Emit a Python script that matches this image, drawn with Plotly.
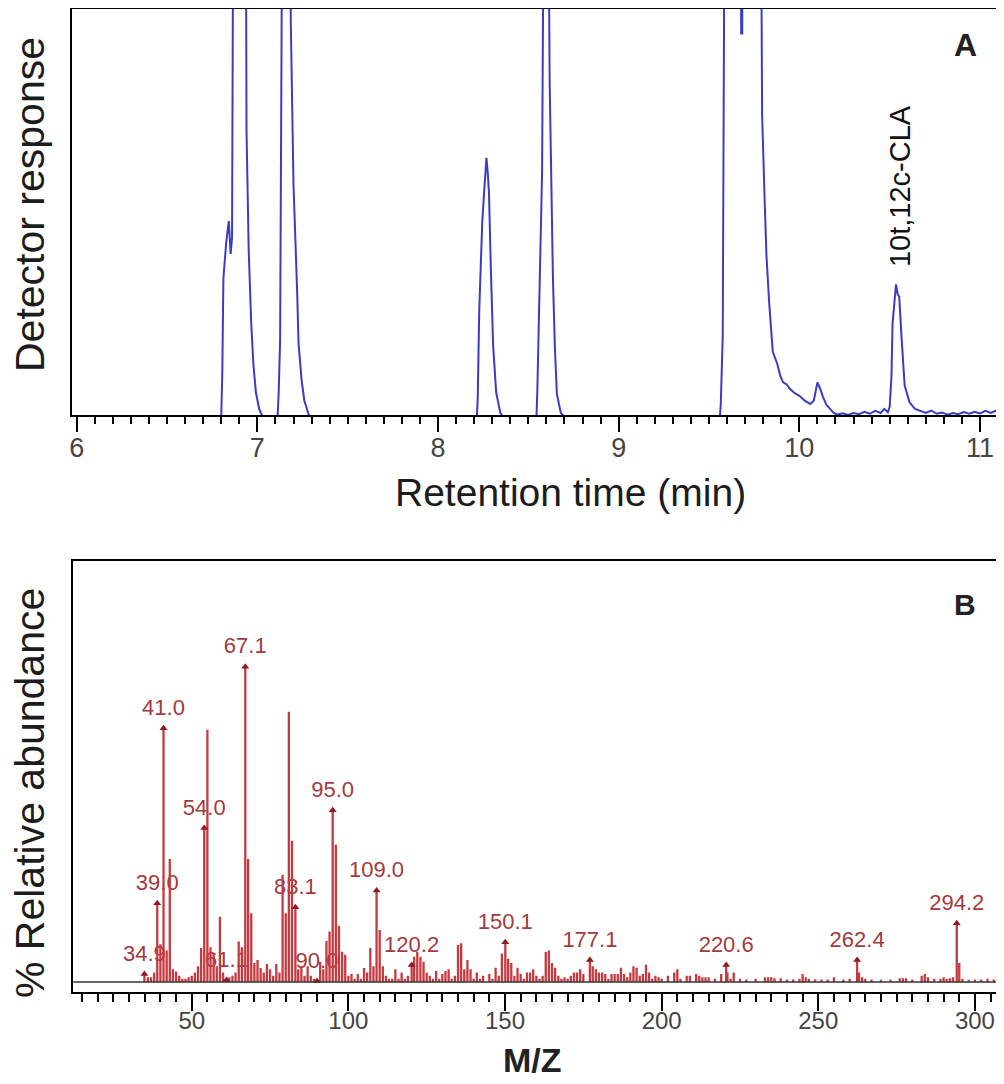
import plotly.graph_objects as go

# ---------------- Panel A: chromatogram ----------------
time_min = [5.98, 6.80, 6.806, 6.812, 6.828, 6.842, 6.852, 6.86, 6.868, 6.935, 6.94, 6.952, 6.966,
            6.978, 6.992, 7.01, 7.03, 7.112, 7.118, 7.126, 7.14, 7.18, 7.185, 7.20, 7.22, 7.228,
            7.245, 7.26, 7.285, 7.30, 8.215, 8.22, 8.228, 8.245, 8.258, 8.268, 8.275, 8.282,
            8.292, 8.305, 8.322, 8.345, 8.36, 8.545, 8.55, 8.565, 8.576, 8.588, 8.608, 8.618,
            8.628, 8.636, 8.647, 8.658, 8.68, 8.70, 9.56, 9.565, 9.576, 9.588, 9.676, 9.678,
            9.684, 9.686, 9.785, 9.794, 9.808, 9.818, 9.833, 9.853, 9.878, 9.895, 9.91, 9.93,
            9.946, 9.97, 10.0, 10.03, 10.06, 10.08, 10.10, 10.115, 10.13, 10.15, 10.17, 10.19,
            10.21, 10.24, 10.27, 10.30, 10.33, 10.36, 10.39, 10.42, 10.45, 10.47, 10.49, 10.50,
            10.51, 10.516, 10.526, 10.535, 10.545, 10.553, 10.565, 10.583, 10.61, 10.64, 10.67,
            10.70, 10.73, 10.76, 10.79, 10.82, 10.85, 10.88, 10.91, 10.94, 10.97, 11.0, 11.03,
            11.06, 11.10]
response = [0, 0, 11, 34, 43, 48, 40, 44, 150, 150, 70, 41, 23,
            13, 6, 2, 0, 0, 6, 19, 150, 150, 97, 57, 31, 18,
            9, 4, 0.5, 0, 0, 5, 26, 48, 57, 63.5, 60, 55,
            37, 17.5, 6, 1, 0, 0, 7, 35, 60, 150, 150, 82,
            48, 34, 17, 5.6, 1, 0, 0, 3, 20, 150, 150, 94,
            94, 150, 150, 74, 53, 39.5, 28, 16, 13, 10, 8.5, 8,
            7, 6, 5.2, 4, 3.2, 4, 8.5, 7, 5, 3, 2, 1,
            0.6, 0.9, 0.5, 1.0, 0.7, 1.3, 0.8, 1.5, 1.0, 2.0, 1.2, 2.5,
            10, 23, 28, 32.5, 30, 29.5, 20, 7.7, 3.6, 2, 1.5,
            1.0, 1.6, 0.8, 1.1, 0.6, 1.0, 0.7, 1.2, 0.8, 1.3, 0.9, 1.5,
            1.0, 1.8]
a_ticks = [6, 7, 8, 9, 10, 11]

# ---------------- Panel B: mass spectrum ----------------
mz = [34.9, 36, 37, 38, 39, 40, 41, 42, 43, 44, 45, 46, 47, 48, 49, 50, 51, 52, 53, 54, 55, 56, 57,
      58, 59, 60, 61.1, 62, 63, 64, 65, 66, 67.1, 68, 69, 70, 71, 72, 73, 74, 75, 76, 77, 78, 79,
      80, 81, 82, 83.1, 84, 85, 86, 87, 88, 89, 90.0, 91, 92, 93, 94, 95.0, 96, 97, 98, 99, 100,
      101, 102, 103, 104, 105, 106, 107, 108, 109.0, 110, 111, 112, 113, 114, 115, 116, 117, 118,
      119, 120.2, 121, 122, 123, 124, 125, 126, 127, 128, 129, 130, 131, 132, 133, 134, 135, 136,
      137, 138, 139, 140, 141, 142, 143, 145, 146, 147, 148, 149, 150.1, 151, 152, 153, 154, 155,
      156, 157, 158, 159, 160, 161, 162, 163, 164, 165, 166, 167, 168, 169, 170, 171, 172, 173,
      174, 175, 177.1, 178, 179, 180, 181, 182, 183, 184, 185, 186, 187, 188, 189, 190, 191, 192,
      193, 194, 195, 196, 197, 198, 199, 200, 202, 204, 205, 206, 208, 209, 211, 212, 213, 214,
      215, 217, 219, 220.6, 221, 222, 223, 225, 227, 230, 233, 234, 235, 236, 238, 240, 242, 244,
      245, 246, 247, 249, 251, 253, 255, 258, 260, 262.4, 263, 264, 265, 267, 270, 273, 276, 277,
      278, 280, 283, 284, 285, 287, 289, 290, 291, 292, 293, 294.2, 295, 296, 298, 300, 302, 304,
      306]
abundance = [2.5, 1.5, 1.5, 3, 25, 12, 80.5, 10, 39, 4, 3.3, 2, 1, 1, 1.5, 2, 3, 5, 10.8, 48.8, 80, 11, 9,
             5, 20.7, 3, 0.6, 1.5, 2, 3, 12.8, 11, 100, 39, 21.8, 6, 7, 4.4, 3, 5.7, 4, 2, 5.7, 3, 34,
             21.8, 85.7, 44.8, 23.7, 4, 5, 2, 5, 2, 1, 0.3, 6.4, 4, 13, 16, 54.5, 43.5, 17.8, 9.6, 8.6, 2,
             2.5, 1, 2.5, 1, 4.4, 3, 10.8, 5, 29, 16.5, 5, 2, 1, 1, 4, 1, 3, 1,
             2, 5.4, 8, 9.6, 8, 6.4, 3, 2, 1, 3.5, 1, 2.5, 3.5, 4, 1, 2, 11.7, 12.3,
             4, 7, 4, 1, 3, 1, 2, 2.5, 1, 4.5, 2, 9, 12.6, 7.4, 6, 2, 4.5, 2.5,
             1, 3, 3, 4, 2, 1, 2, 9.5, 10, 6, 4.5, 2, 1, 1.5, 1, 2, 3, 3,
             4, 2.5, 7, 5, 4, 3, 3, 2.5, 1, 2.5, 2.5, 2.5, 4.5, 2.5, 1.5, 3, 5, 4.5,
             2, 2.5, 5.5, 3, 1, 2, 1.5, 1, 2, 3, 4, 1, 2, 2, 2.5, 2, 1.5, 1.5,
             1.5, 1, 2.5, 5.4, 3, 1, 3, 1, 0.8, 1, 1.5, 1.5, 1.5, 1.2, 1.2, 0.8, 0.8, 1,
             2.5, 1.5, 1, 0.8, 0.8, 0.8, 1.5, 0.8, 1, 7, 3, 1.5, 1, 0.8, 0.7, 0.8, 1.2, 1.2,
             1.2, 0.8, 2, 2.5, 1.5, 1, 1, 1.5, 1, 1.2, 1.5, 18.6, 6, 1, 0.7, 0.8, 0.8, 1,
             0.8]
label_mz = [34.9, 39.0, 41.0, 54.0, 61.1, 67.1, 83.1, 90.0, 95.0, 109.0, 120.2, 150.1, 177.1,
            220.6, 262.4, 294.2]
label_abund = [2.5, 25, 80.5, 48.8, 0.6, 100, 23.7, 0.3, 54.5, 29, 5.4, 12.6, 7, 5.4, 7, 18.6]
label_text = ["34.9", "39.0", "41.0", "54.0", "61.1", "67.1", "83.1", "90.0", "95.0", "109.0",
              "120.2", "150.1", "177.1", "220.6", "262.4", "294.2"]
b_ticks = [50, 100, 150, 200, 250, 300]

FONT = "Liberation Sans, Arial, Helvetica, sans-serif"
OFF = 8                      # page body margin
W, H = 1004 - OFF, 1084 - OFF

fig = go.Figure()

fig.add_trace(go.Scatter(x=time_min, y=response, mode="lines",
                         line=dict(color="#3a3dbf", width=2), xaxis="x", yaxis="y",
                         showlegend=False, hoverinfo="skip"))

# labels first so that bars overlay them, as in the original
fig.add_trace(go.Scatter(x=label_mz, y=label_abund, mode="markers+text", text=label_text,
                         textposition="top center",
                         textfont=dict(family=FONT, size=22, color="#a23a3e"),
                         marker=dict(size=11, opacity=0), xaxis="x2", yaxis="y2",
                         showlegend=False, hoverinfo="skip", cliponaxis=False))

bx, by = [], []
for m, v in zip(mz, abundance):
    bx += [m, m, None]
    by += [0, v, None]
fig.add_trace(go.Scatter(x=bx, y=by, mode="lines", line=dict(color="#c43a40", width=2.3),
                         xaxis="x2", yaxis="y2", showlegend=False, hoverinfo="skip"))

fig.add_trace(go.Scatter(x=label_mz, y=label_abund, mode="markers",
                         marker=dict(symbol="triangle-up", size=7, color="#8e1b22"),
                         xaxis="x2", yaxis="y2", showlegend=False, hoverinfo="skip",
                         cliponaxis=False))


def px_x(p):
    return min(1.0, max(0.0, (p - OFF) / W))


def px_y(p):
    return min(1.0, max(0.0, 1 - (p - OFF) / H))


axis_common = dict(showline=True, mirror=True, linecolor="black", linewidth=2,
                   showgrid=False, zeroline=False, automargin=False)

fig.update_layout(
    width=W, height=H, margin=dict(l=0, r=0, t=0, b=0),
    paper_bgcolor="white", plot_bgcolor="white", showlegend=False,
    xaxis=dict(domain=[px_x(71.7), px_x(998)], range=[5.9723, 11.0996], anchor="y",
               tickmode="array", tickvals=a_ticks, ticks="outside", ticklen=15, tickwidth=1.5,
               tickcolor="black", ticklabelstandoff=-7,
               tickfont=dict(family=FONT, size=27, color="#444"),
               minor=dict(dtick=0.1, tick0=6, ticks="outside", ticklen=7, tickwidth=2,
                          tickcolor="black", showgrid=False),
               **axis_common),
    yaxis=dict(domain=[px_y(415), px_y(9)], range=[0.5, 100], anchor="x",
               showticklabels=False, ticks="", **axis_common),
    xaxis2=dict(domain=[px_x(73.3), px_x(1000)], range=[12.2, 308.0], anchor="y2",
                tickmode="array", tickvals=b_ticks, ticks="outside", ticklen=17, tickwidth=1.5,
                tickcolor="black", ticklabelstandoff=-11,
                tickfont=dict(family=FONT, size=24, color="#444"),
                minor=dict(dtick=5, tick0=0, ticks="outside", ticklen=8, tickwidth=2,
                           tickcolor="black", showgrid=False),
                **axis_common),
    yaxis2=dict(domain=[px_y(991.7), px_y(560.7)], range=[-3.08, 133.6], anchor="x2",
                showticklabels=False, ticks="", **axis_common),
)

# spectrum baseline
fig.add_shape(type="line", xref="x2 domain", yref="y2", x0=0, x1=1, y0=0, y1=0,
              line=dict(color="#333", width=1.5))

ann_font = dict(family=FONT, color="#222")
fig.add_annotation(text="Retention time (min)", xref="paper", yref="paper",
                   x=px_x(570), y=px_y(492), showarrow=False, xanchor="center", yanchor="middle",
                   font=dict(size=39, family=FONT, color="#1c1c1c"))
fig.add_annotation(text="Detector response", xref="paper", yref="paper",
                   x=px_x(30), y=px_y(205), showarrow=False, textangle=-90,
                   xanchor="center", yanchor="middle", font=dict(size=41, family=FONT, color="#1c1c1c"))
fig.add_annotation(text="% Relative abundance", xref="paper", yref="paper",
                   x=px_x(30), y=px_y(793), showarrow=False, textangle=-90,
                   xanchor="center", yanchor="middle", font=dict(size=41, family=FONT, color="#1c1c1c"))
fig.add_annotation(text="<b>M/Z</b>", xref="paper", yref="paper",
                   x=px_x(532), y=px_y(1060), showarrow=False, xanchor="center", yanchor="middle",
                   font=dict(size=34, **ann_font))
fig.add_annotation(text="<b>A</b>", xref="paper", yref="paper", x=px_x(965), y=px_y(45),
                   showarrow=False, xanchor="center", yanchor="middle",
                   font=dict(size=32, **ann_font))
fig.add_annotation(text="<b>B</b>", xref="paper", yref="paper", x=px_x(965), y=px_y(604),
                   showarrow=False, xanchor="center", yanchor="middle",
                   font=dict(size=30, **ann_font))
fig.add_annotation(text="10t,12c-CLA", xref="x", yref="y", x=10.557, y=56.6,
                   showarrow=False, textangle=-90, xanchor="center", yanchor="middle",
                   font=dict(size=29, family=FONT, color="#111"))

fig.write_html("out.html")
